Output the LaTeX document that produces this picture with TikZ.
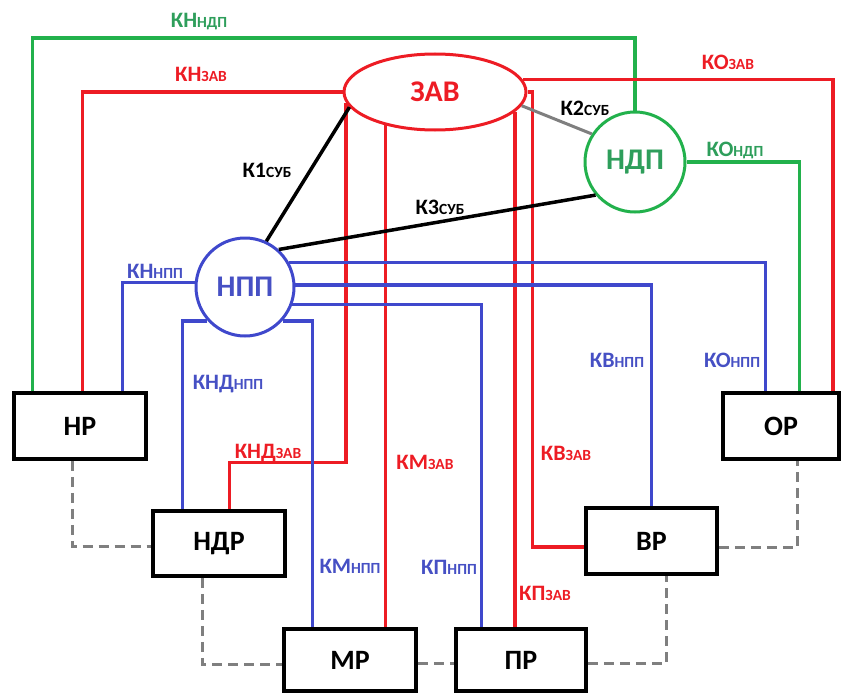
\documentclass[tikz,border=0pt]{standalone}
\usepackage{fontspec}
\setmainfont{Carlito}
\usetikzlibrary{shapes.geometric,calc}
\definecolor{myred}{HTML}{ED1C24}
\definecolor{mygreen}{HTML}{22B14C}
\definecolor{mygreentxt}{HTML}{2E9E5B}
\definecolor{myblue}{HTML}{3F48CC}
\definecolor{mybluetxt}{HTML}{4650C4}
\definecolor{mygray}{HTML}{7F7F7F}
\newcommand\lblsub[1]{{\fontsize{15.5}{15.5}\selectfont #1}}
\begin{document}
\begin{tikzpicture}[x=1pt,y=-1pt,
  box/.style={draw=black, line width=3.5pt, inner sep=0pt,
    font=\fontsize{28}{28}\selectfont\bfseries},
  bignode/.style={line width=3pt, inner sep=0pt,
    font=\fontsize{30}{30}\selectfont\bfseries},
  lbl/.style={inner sep=0pt, font=\fontsize{22}{22}\selectfont\bfseries},
  rl/.style={draw=myred, line width=3.5pt},
  gl/.style={draw=mygreen, line width=3.5pt},
  bl/.style={draw=myblue, line width=3.5pt},
  kl/.style={draw=black, line width=3.5pt},
  dl/.style={draw=mygray, line width=3pt, dash pattern=on 10pt off 6pt}]
\useasboundingbox (0,0) rectangle (845,693);

% main nodes
\node[bignode, ellipse, draw=myred, text=myred, minimum width=182pt, minimum height=76pt] (zav) at (435,92) {ЗАВ};
\node[bignode, circle, draw=mygreen, text=mygreentxt, minimum size=100pt] (ndp) at (635,162) {НДП};
\node[bignode, circle, draw=myblue, text=mybluetxt, minimum size=98pt] (npp) at (245,287) {НПП};

% boxes
\node[box, minimum width=132pt, minimum height=66pt] (hr) at (80,426) {НР};
\node[box, minimum width=116pt, minimum height=66pt] (or) at (781,426) {ОР};
\node[box, minimum width=132pt, minimum height=65pt] (ndr) at (219,543.5) {НДР};
\node[box, minimum width=131pt, minimum height=66pt] (vr) at (651.5,541) {ВР};
\node[box, minimum width=132pt, minimum height=62pt] (mr) at (350,660) {МР};
\node[box, minimum width=130pt, minimum height=62pt] (pr) at (521,660) {ПР};

% dashed gray links between boxes
\draw[dl] ($(hr.south west)+(60,0)$) |- ($(ndr.west)+(0,3)$);
\draw[dl] ($(ndr.south west)+(51,0)$) |- ($(mr.west)+(0,4)$);
\draw[dl] ($(mr.east)+(0,3)$) -- ($(pr.west)+(0,3)$);
\draw[dl] ($(pr.east)+(0,3)$) -| ($(vr.south west)+(82,0)$);
\draw[dl] ($(vr.east)+(0,6)$) -| ($(or.south west)+(76,0)$);

% green links
\draw[gl] ($(hr.north west)+(20,0)$) |- (ndp.north |- 0,38) -- (ndp.north);
\draw[gl] (ndp.east) -| ($(or.north west)+(78,0)$);

% red links
\draw[rl] (zav.west) -| ($(hr.north west)+(70,0)$);
\draw[rl] (zav.8) -| ($(or.north east)+(-8,0)$);
\draw[rl] (zav.east) -| ($(vr.west)+(-52,6)$) -- ($(vr.west)+(0,6)$);
\draw[rl] (zav.-14.1) -- (zav.-14.1 |- pr.north);
\draw[rl] (zav.214.7) -- (zav.214.7 |- mr.north);
\draw[rl] (zav.187.3) |- ($(ndr.north west)+(78,-47)$) -- ($(ndr.north west)+(78,0)$);

% blue links
\draw[bl] (npp.175) -| ($(hr.north west)+(110,0)$);
\draw[bl] (npp.222.5) -| ($(ndr.north west)+(31,0)$);
\draw[bl] (npp.-42.5) -| ($(mr.north west)+(30,0)$);
\draw[bl] (npp.-20.3) -| ($(pr.north west)+(27,0)$);
\draw[bl] (npp.2.3) -| ($(vr.north west)+(67,0)$);
\draw[bl] (npp.29.3) -| ($(or.north west)+(44,0)$);

% subordination links
\draw[kl] (zav.190) -- (npp.65);
\draw[kl] (ndp.220.6) -- (npp.48);
\draw[draw=mygray, line width=3pt] (zav.-9) -- (ndp.147);

% labels
\node[lbl, text=mygreentxt] (lKNndp) at (199,22) {КН\lblsub{НДП}};
\node[lbl, text=myred] (lKNzav) at (201,74) {КН\lblsub{ЗАВ}};
\node[lbl, text=myred] (lKOzav) at (728,62) {КО\lblsub{ЗАВ}};
\node[lbl, text=mygreentxt] (lKOndp) at (735,150) {КО\lblsub{НДП}};
\node[lbl] (lK1) at (267,170) {К1\lblsub{СУБ}};
\node[lbl] (lK2) at (585,108) {К2\lblsub{СУБ}};
\node[lbl] (lK3) at (440,207) {К3\lblsub{СУБ}};
\node[lbl, text=mybluetxt] (lKNnpp) at (155,271) {КН\lblsub{НПП}};
\node[lbl, text=mybluetxt] (lKNDnpp) at (228,384) {КНД\lblsub{НПП}};
\node[lbl, text=myred] (lKNDzav) at (268,453) {КНД\lblsub{ЗАВ}};
\node[lbl, text=myred] (lKMzav) at (425,462) {КМ\lblsub{ЗАВ}};
\node[lbl, text=myred] (lKVzav) at (566,453) {КВ\lblsub{ЗАВ}};
\node[lbl, text=mybluetxt] (lKVnpp) at (617,360) {КВ\lblsub{НПП}};
\node[lbl, text=mybluetxt] (lKOnpp) at (732,360) {КО\lblsub{НПП}};
\node[lbl, text=mybluetxt] (lKMnpp) at (350,566) {КМ\lblsub{НПП}};
\node[lbl, text=mybluetxt] (lKPnpp) at (449,567) {КП\lblsub{НПП}};
\node[lbl, text=myred] (lKPzav) at (545,593) {КП\lblsub{ЗАВ}};
\end{tikzpicture}
\end{document}
